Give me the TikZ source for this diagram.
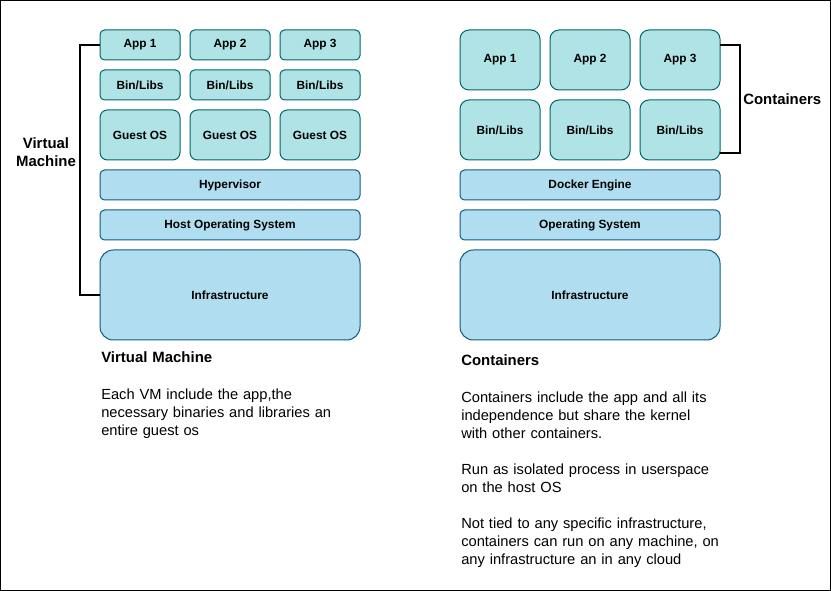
\documentclass[tikz,border=0pt]{standalone}
\usepackage{fontspec}
\setmainfont{Liberation Sans}
\begin{document}
\begin{tikzpicture}[x=0.75pt, y=-0.75pt,
		layer/.style={draw=teal!80!black, fill=boxteal, line width=0.75pt, rounded corners=3.4pt, minimum width=60pt, inner sep=0pt, font=\bfseries\fontsize{8.9}{10}\selectfont},
		base/.style={layer, draw=boxblue!80!black, fill=boxsky, minimum width=195pt},
		bracket/.style={line width=1.5pt, black},
		heading/.style={font=\bfseries\fontsize{11.2}{13.5}\selectfont},
		body/.style={anchor=north west, inner sep=0pt, align=left, text width=220pt, font=\fontsize{11}{13.5}\selectfont}]
		\definecolor{boxteal}{HTML}{B0E3E6}
		\definecolor{boxsky}{HTML}{B1DDF0}
		\definecolor{boxblue}{HTML}{10739E}
		\useasboundingbox (0,0) rectangle (831,591);
		\draw[line width=0.75pt] (0.5,0.5) rectangle (830.5,590.5);
		% virtual machine stack
		\foreach \i/\x in {1/140, 2/230, 3/320} {
			\node[layer, minimum height=22.5pt] (app\i) at (\x,45) {App \i};
			\node[layer, minimum height=22.5pt] (bin\i) at (\x,85) {Bin/Libs};
			\node[layer, minimum height=37.5pt, rounded corners=5.6pt] (guest\i) at (\x,135) {Guest OS};
		}
		\node[base, minimum height=22.5pt] (hyper) at (230,185) {Hypervisor};
		\node[base, minimum height=22.5pt] (host) at (230,225) {Host Operating System};
		\node[base, minimum height=67.5pt, rounded corners=10pt] (infra) at (230,295) {Infrastructure};
		\draw[bracket] (app1.west) -- ++(-20,0) |- (infra.west);
		\node[heading, align=center] (vmlabel) at (46,152) {Virtual\\Machine};
		% container stack
		\foreach \i/\x in {1/500, 2/590, 3/680} {
			\node[layer, minimum height=45pt, rounded corners=6.75pt] (capp\i) at (\x,60) {App \i};
			\node[layer, minimum height=45pt, rounded corners=6.75pt] (cbin\i) at (\x,130) {Bin/Libs};
		}
		\node[base, minimum height=22.5pt] (docker) at (590,185) {Docker Engine};
		\node[base, minimum height=22.5pt] (os) at (590,225) {Operating System};
		\node[base, minimum height=67.5pt, rounded corners=10pt] (cinfra) at (590,295) {Infrastructure};
		\coordinate (ctop) at (720,45);
		\coordinate (cbot) at (720,153);
		\draw[bracket] (ctop) -- ++(20,0) |- (cbot);
		\node[heading, anchor=west, inner sep=0pt] (clabel) at (743,99) {Containers};
		% descriptions
		\node[body, heading] (vmtitle) at (101,351) {Virtual Machine};
		\node[body] (vmtext) at (101,388.5) {Each VM include the app,the\\necessary binaries and libraries an\\entire guest os};
		\node[body, heading] (ctitle) at (461,354) {Containers};
		\node[body] (ctext) at (461,391.5) {Containers include the app and all its\\independence but share the kernel\\with other containers.\\[13.5pt]Run as isolated process in userspace\\on the host OS\\[13.5pt]Not tied to any specific infrastructure,\\containers can run on any machine, on\\any infrastructure an in any cloud};
\end{tikzpicture}
\end{document}
